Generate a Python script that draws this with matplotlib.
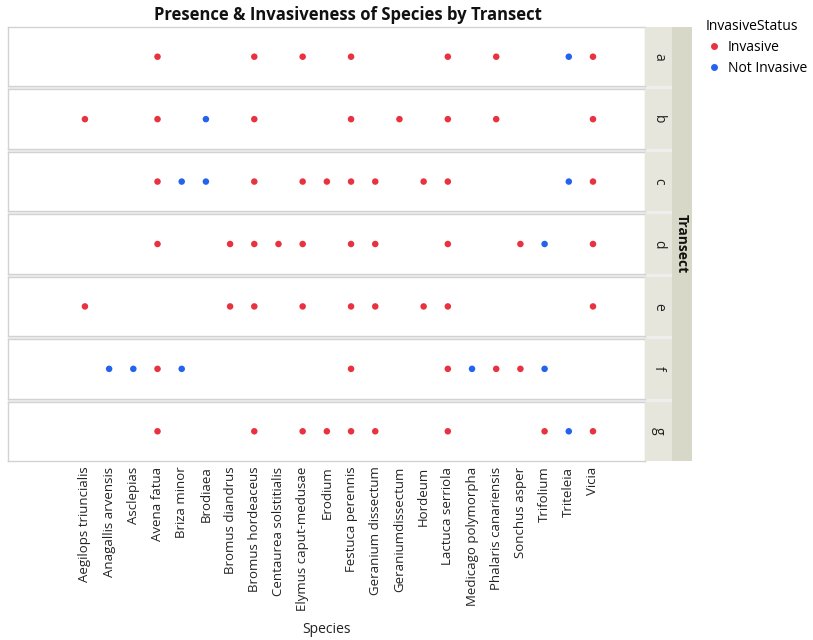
import matplotlib
matplotlib.use("Agg")
import matplotlib.pyplot as plt
from matplotlib.lines import Line2D
from matplotlib.patches import Rectangle

plt.rcParams['font.family'] = ['Open Sans', 'DejaVu Sans']

species = [
    "Aegilops triuncialis", "Anagallis arvensis", "Asclepias", "Avena fatua",
    "Briza minor", "Brodiaea", "Bromus diandrus", "Bromus hordeaceus",
    "Centaurea solstitialis", "Elymus caput-medusae", "Erodium",
    "Festuca perennis", "Geranium dissectum", "Geraniumdissectum", "Hordeum",
    "Lactuca serriola", "Medicago polymorpha", "Phalaris canariensis",
    "Sonchus asper", "Trifolium", "Triteleia", "Vicia",
]
transects = ["a", "b", "c", "d", "e", "f", "g"]

# species recorded in each transect, split by invasive status
a_invasive = ["Avena fatua", "Bromus hordeaceus", "Elymus caput-medusae", "Festuca perennis",
              "Lactuca serriola", "Phalaris canariensis", "Vicia"]
a_not_invasive = ["Triteleia"]
b_invasive = ["Aegilops triuncialis", "Avena fatua", "Bromus hordeaceus", "Festuca perennis",
              "Geraniumdissectum", "Lactuca serriola", "Phalaris canariensis", "Vicia"]
b_not_invasive = ["Brodiaea"]
c_invasive = ["Avena fatua", "Bromus hordeaceus", "Elymus caput-medusae", "Erodium",
              "Festuca perennis", "Geranium dissectum", "Hordeum", "Lactuca serriola", "Vicia"]
c_not_invasive = ["Briza minor", "Brodiaea", "Triteleia"]
d_invasive = ["Avena fatua", "Bromus diandrus", "Bromus hordeaceus", "Centaurea solstitialis",
              "Elymus caput-medusae", "Festuca perennis", "Geranium dissectum",
              "Lactuca serriola", "Sonchus asper", "Vicia"]
d_not_invasive = ["Trifolium"]
e_invasive = ["Aegilops triuncialis", "Bromus diandrus", "Bromus hordeaceus",
              "Elymus caput-medusae", "Festuca perennis", "Geranium dissectum", "Hordeum",
              "Lactuca serriola", "Vicia"]
e_not_invasive = []
f_invasive = ["Avena fatua", "Festuca perennis", "Lactuca serriola", "Phalaris canariensis",
              "Sonchus asper"]
f_not_invasive = ["Anagallis arvensis", "Asclepias", "Briza minor", "Medicago polymorpha",
                  "Trifolium"]
g_invasive = ["Avena fatua", "Bromus hordeaceus", "Elymus caput-medusae", "Erodium",
              "Festuca perennis", "Geranium dissectum", "Lactuca serriola", "Trifolium", "Vicia"]
g_not_invasive = ["Triteleia"]

invasive_lists = [a_invasive, b_invasive, c_invasive, d_invasive, e_invasive, f_invasive, g_invasive]
not_invasive_lists = [a_not_invasive, b_not_invasive, c_not_invasive, d_not_invasive,
                      e_not_invasive, f_not_invasive, g_not_invasive]

status_labels = ["Invasive", "Not Invasive"]
status_colors = ["#E8323F", "#2463EE"]

W, H = 813, 640
fig = plt.figure(figsize=(W / 100, H / 100), dpi=100)


def fx(px):
    return px / W


def fy(py):
    return 1 - py / H


panel_left, panel_right = 8, 645
strip_right, outer_right = 672, 692
top, bottom = 27, 461
gap = 3
n = len(transects)
ph = (bottom - top - gap * (n - 1)) / n

# light band behind the panel stack (shows through the gaps)
band = Rectangle((fx(panel_left), fy(bottom)), fx(strip_right - panel_left),
                 (bottom - top) / H, transform=fig.transFigure,
                 facecolor="#EEEEEE", edgecolor="none", zorder=-5)
fig.patches.append(band)

pos = {s: i for i, s in enumerate(species)}
for i, t in enumerate(transects):
    y0 = top + i * (ph + gap)
    ax = fig.add_axes([fx(panel_left), fy(y0 + ph), fx(panel_right - panel_left), ph / H])
    ax.set_zorder(1)
    ax.set_facecolor("white")
    for lst, col in ((invasive_lists[i], status_colors[0]), (not_invasive_lists[i], status_colors[1])):
        if lst:
            ax.scatter([pos[s] for s in lst], [0] * len(lst), s=22, color=col,
                       edgecolors="none", zorder=3)
    ax.set_xlim(-3.18, len(species) - 1 + 2.15)
    ax.set_ylim(-1, 1)
    ax.set_yticks([])
    for sp in ax.spines.values():
        sp.set_color("#D2D2D2")
        sp.set_linewidth(1.0)
    ax.set_xticks(range(len(species)))
    if i < n - 1:
        ax.tick_params(axis="x", length=0, labelbottom=False)
    else:
        ax.set_xticklabels(species, rotation=90, fontsize=9.5, color="#222222")
        ax.tick_params(axis="x", length=0, pad=4)
        ax.set_xlabel("Species", fontsize=10, color="#222222", labelpad=8)

    # facet strip on the right
    sax = fig.add_axes([fx(panel_right), fy(y0 + ph), fx(strip_right - panel_right), ph / H])
    sax.set_zorder(1)
    sax.set_facecolor("#E6E6DC")
    sax.set_xticks([])
    sax.set_yticks([])
    for sp in sax.spines.values():
        sp.set_visible(False)
    sax.text(0.5, 0.5, t, rotation=-90, ha="center", va="center", fontsize=10,
             color="#222222", transform=sax.transAxes)

# outer strip with the facet variable name
oax = fig.add_axes([fx(strip_right), fy(bottom), fx(outer_right - strip_right), (bottom - top) / H])
oax.set_zorder(1)
oax.set_facecolor("#D8D8C8")
oax.set_xticks([])
oax.set_yticks([])
for sp in oax.spines.values():
    sp.set_visible(False)
oax.text(0.5, 0.5, "Transect", rotation=-90, ha="center", va="center", fontsize=10,
         fontweight="bold", color="#111111", transform=oax.transAxes)

fig.text(fx((panel_left + strip_right) / 2 + 8), fy(15), "Presence & Invasiveness of Species by Transect",
         ha="center", va="center", fontsize=12, fontweight="bold", color="#111111")

handles = [Line2D([0], [0], marker="o", linestyle="none", markersize=5,
                  markerfacecolor=c, markeredgecolor="none") for c in status_colors]
fig.legend(handles, status_labels, title="InvasiveStatus", loc="upper left",
           bbox_to_anchor=(fx(693), fy(6)), frameon=False, fontsize=10,
           title_fontsize=10, handletextpad=0.4, labelspacing=0.45,
           handlelength=1.2, alignment="left")

fig.savefig("out.png", dpi=100, facecolor="white")
